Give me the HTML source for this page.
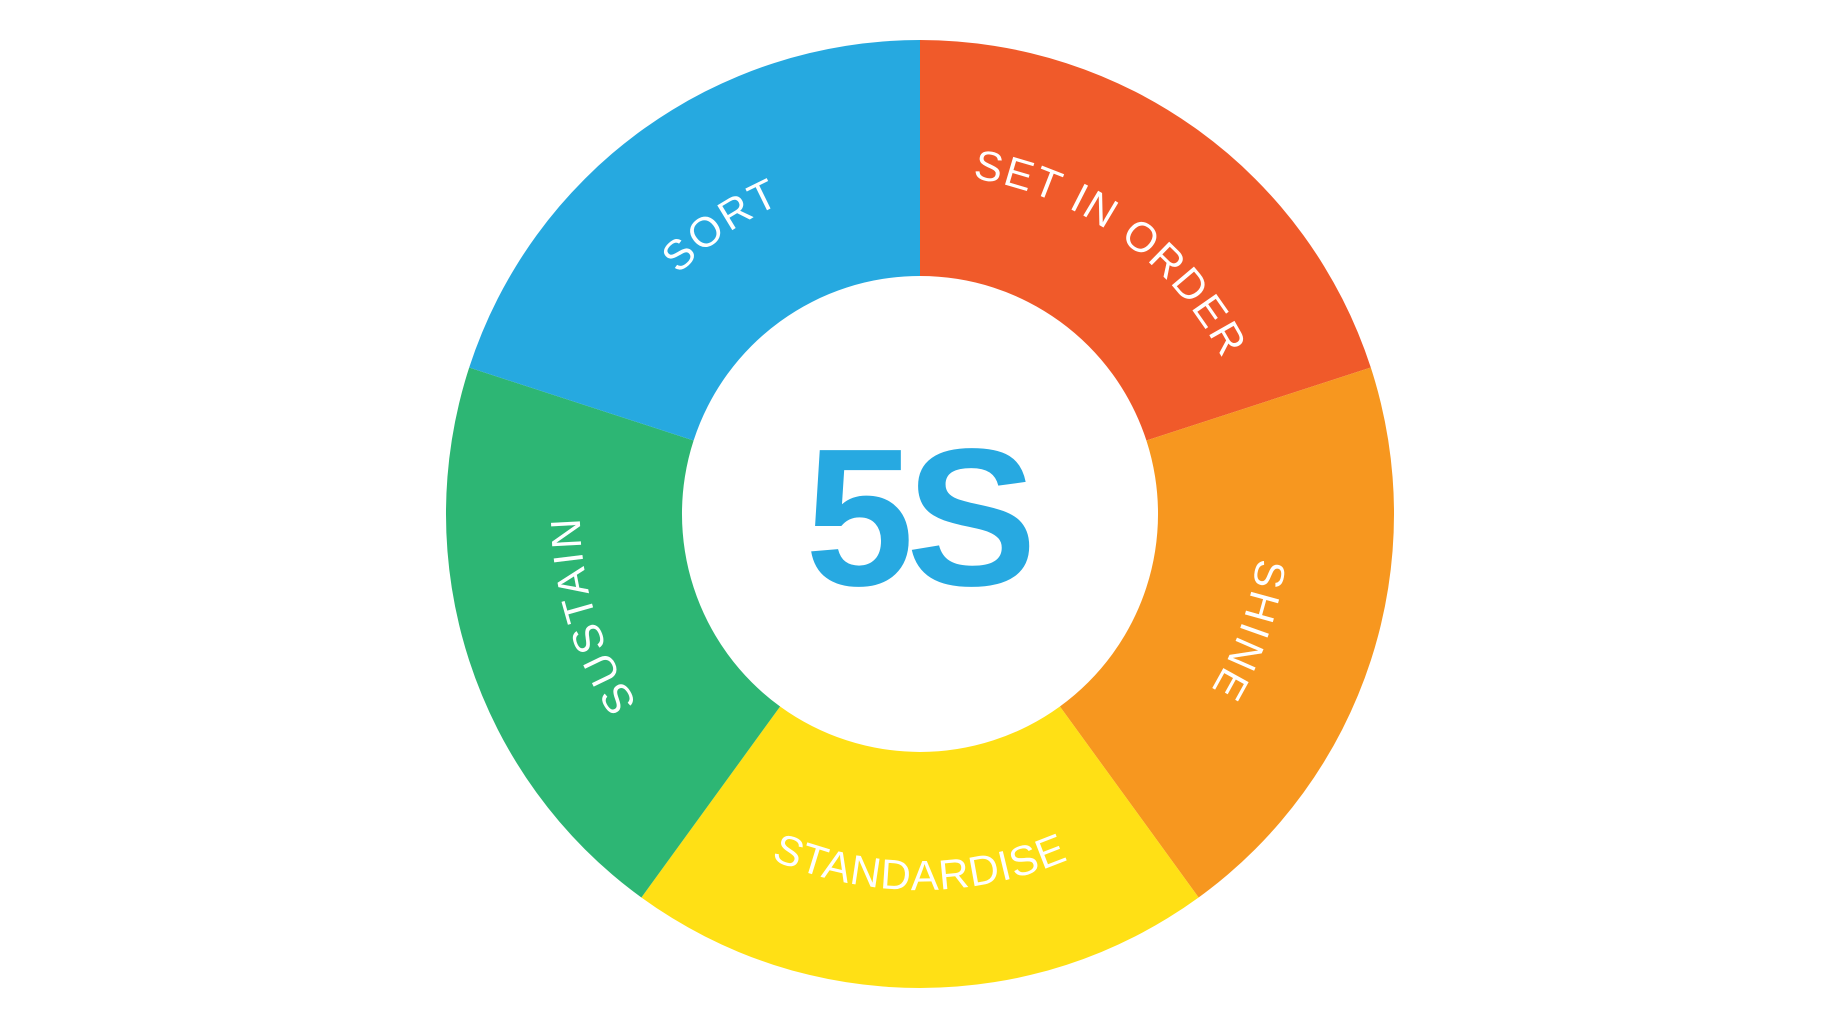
<!DOCTYPE html>
<html><head><meta charset="utf-8"><style>
html,body{margin:0;padding:0;background:#fff;}
svg{display:block;}
text{font-family:"Liberation Sans",sans-serif;}
</style></head><body>
<svg width="1848" height="1025" viewBox="0 0 1848 1025" xmlns="http://www.w3.org/2000/svg">
<defs>
<path id="pSort" d="M 581.0 540.7 A 340 340 0 0 1 1066.4 207.1"/>
<path id="pSet" d="M 781.7 203.4 A 340 340 0 0 1 1258.1 549.5"/>
<path id="pShine" d="M 1178.5 293.2 A 340 340 0 0 1 982.0 848.3"/>
<path id="pStd" d="M 594.4 702 A 376 376 0 0 0 1245.6 702"/>
<path id="pSus" d="M 843.5 845.3 A 340 340 0 0 1 671.3 282.1"/>
</defs>
<g transform="translate(920,514)">
<path d="M0 -474 A474 474 0 0 1 450.8 -146.5 L226.4 -73.5 A238 238 0 0 0 0 -238 Z" fill="#F05A2A"/>
<path d="M450.8 -146.5 A474 474 0 0 1 278.6 383.5 L139.9 192.5 A238 238 0 0 0 226.4 -73.5 Z" fill="#F7971F"/>
<path d="M278.6 383.5 A474 474 0 0 1 -278.6 383.5 L-139.9 192.5 A238 238 0 0 0 139.9 192.5 Z" fill="#FFE015"/>
<path d="M-278.6 383.5 A474 474 0 0 1 -450.8 -146.5 L-226.4 -73.5 A238 238 0 0 0 -139.9 192.5 Z" fill="#2DB674"/>
<path d="M-450.8 -146.5 A474 474 0 0 1 0 -474 L0 -238 A238 238 0 0 0 -226.4 -73.5 Z" fill="#26A9E0"/>
</g>
<g fill="#fff" font-size="42">
<text><textPath href="#pSort" startOffset="50%" text-anchor="middle" letter-spacing="3">SORT</textPath></text>
<text><textPath href="#pSet" startOffset="50%" text-anchor="middle" letter-spacing="2">SET IN ORDER</textPath></text>
<text><textPath href="#pShine" startOffset="50%" text-anchor="middle" letter-spacing="3">SHINE</textPath></text>
<text><textPath href="#pStd" startOffset="50%" text-anchor="middle" letter-spacing="1">STANDARDISE</textPath></text>
<text><textPath href="#pSus" startOffset="50%" text-anchor="middle" letter-spacing="3">SUSTAIN</textPath></text>
</g>
<text x="917" y="585" text-anchor="middle" font-size="196" font-weight="bold" fill="#27A9E1" letter-spacing="-8">5S</text>
</svg>
</body></html>
